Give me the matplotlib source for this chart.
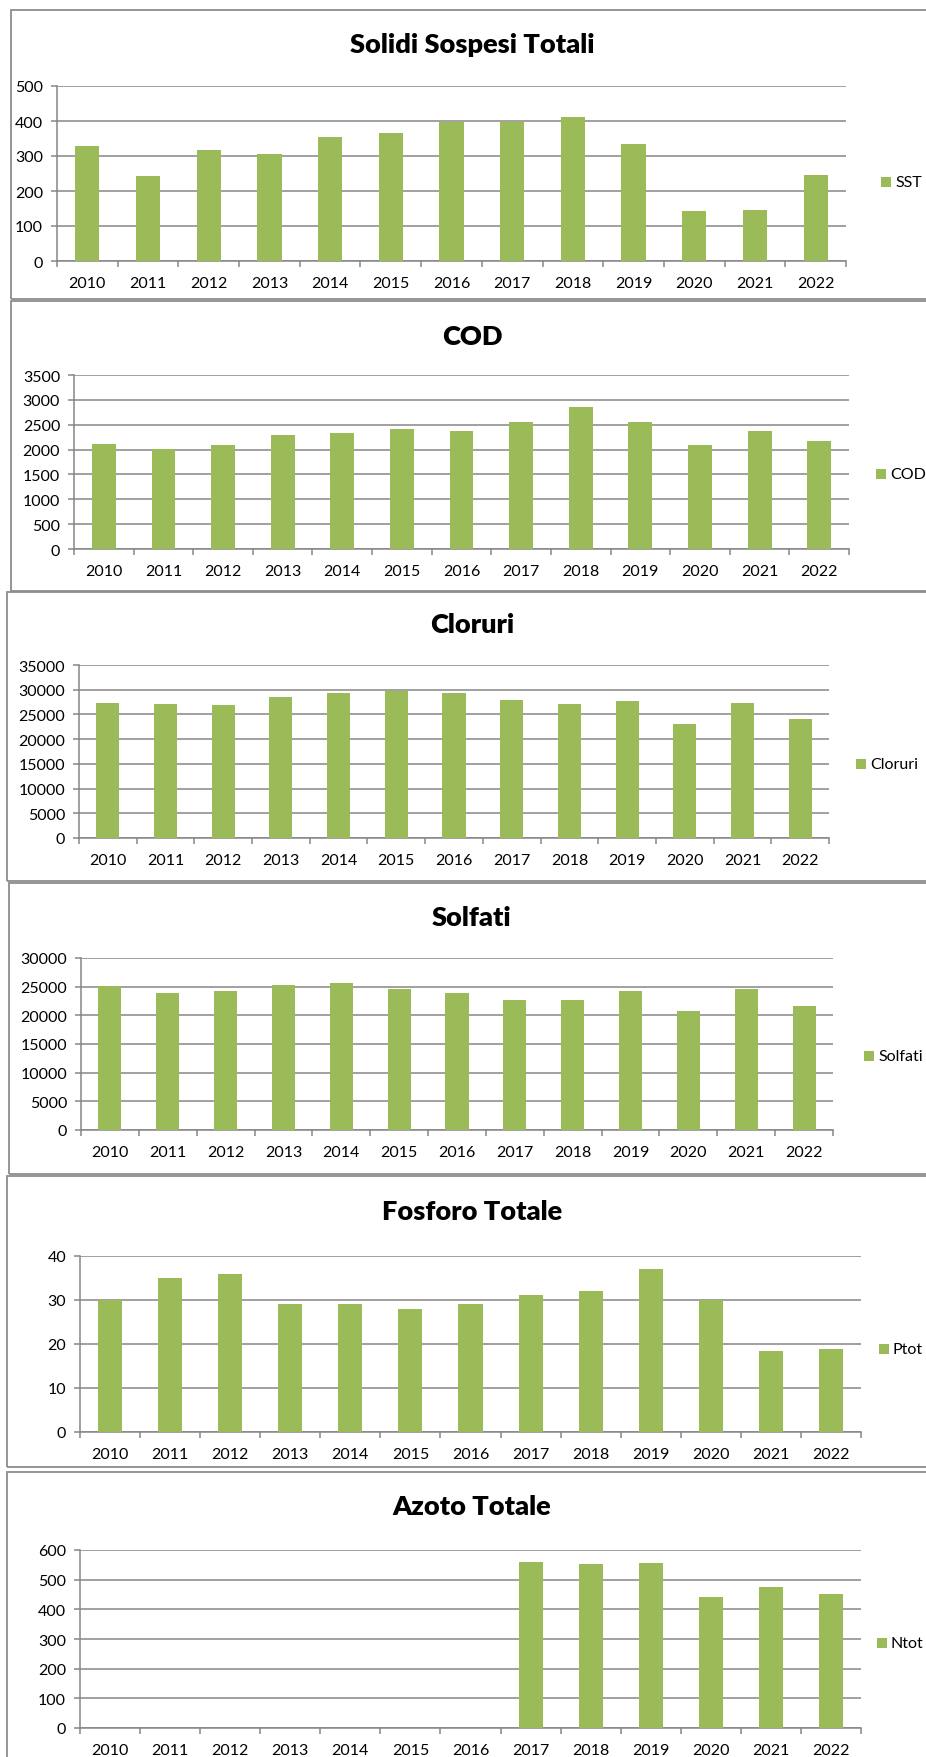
import matplotlib.pyplot as plt
import numpy as np
from matplotlib.patches import Rectangle

plt.rcParams['font.family'] = ['Lato', 'DejaVu Sans']

years = [str(y) for y in range(2010, 2023)]

sst = [328, 243, 318, 305, 353, 365, 398, 398, 412, 335, 143, 145, 246]
cod = [2110, 2005, 2090, 2300, 2335, 2420, 2375, 2550, 2860, 2550, 2090, 2375, 2180]
cloruri = [27400, 27050, 26850, 28500, 29350, 29800, 29350, 27950, 27050, 27750, 23000, 27400, 24050]
solfati = [25050, 23950, 24250, 25350, 25600, 24600, 23850, 22750, 22750, 24250, 20750, 24600, 21700]
ptot = [30, 35, 36, 29, 29, 28, 29, 31.2, 32.1, 37, 30, 18.3, 18.9]
ntot = [np.nan] * 7 + [560, 552, 555, 440, 476, 452]

titles = ["Solidi Sospesi Totali", "COD", "Cloruri", "Solfati", "Fosforo Totale", "Azoto Totale"]
labels = ["SST", "COD", "Cloruri", "Solfati", "Ptot", "Ntot"]
series = [sst, cod, cloruri, solfati, ptot, ntot]
ymax = [500, 3500, 35000, 30000, 40, 600]
ystep = [100, 500, 5000, 5000, 10, 100]

W, H = 926, 1758
fig = plt.figure(figsize=(W / 100, H / 100), dpi=100)

# pixel layout of each panel (border box, plot area, title, legend)
borders = [(11, 11, 300), (11, 302, 592), (7, 593, 882), (9, 884, 1175), (7, 1177, 1468), (7, 1473, 1790)]
plots = [(57, 846, 87, 262), (74, 849, 376, 550), (79, 829, 666, 839),
         (81, 833, 959, 1131), (80, 861, 1257, 1433), (80, 861, 1551, 1729)]
title_y = [45, 337, 625, 918, 1212, 1507]
legend_xy = [(881, 183), (876, 475), (856, 765), (864, 1057), (879, 1350), (877, 1644)]

green = "#9BBB59"
grey = "#868686"

for i in range(6):
    bl, bt, bb = borders[i]
    fig.patches.append(Rectangle((bl / W, 1 - bb / H), (W + 20 - bl) / W, (bb - bt) / H,
                                 transform=fig.transFigure, fill=False,
                                 edgecolor="#8c8c8c", linewidth=1.3, zorder=0))

    l, r, t, b = plots[i]
    ax = fig.add_axes([l / W, 1 - b / H, (r - l) / W, (b - t) / H])
    x = np.arange(len(years))
    ax.bar(x, series[i], width=0.4, color=green, zorder=3)
    ax.set_xlim(-0.5, len(years) - 0.5)
    ax.set_ylim(0, ymax[i])
    ax.set_yticks(np.arange(0, ymax[i] + ystep[i] / 2, ystep[i]))
    ax.yaxis.grid(True, color=grey, linewidth=1.1)
    ax.set_axisbelow(True)
    ax.set_xticks(x)
    ax.set_xticklabels(years)
    ax.set_xticks(np.arange(-0.5, len(years)), minor=True)
    ax.tick_params(axis="x", which="major", length=0, pad=11, labelsize=11.5)
    ax.tick_params(axis="x", which="minor", length=4, color=grey, width=1.1, direction="out")
    ax.tick_params(axis="y", length=4, color=grey, width=1.1, pad=6, labelsize=11.5)
    for s in ["top", "right"]:
        ax.spines[s].set_visible(False)
    for s in ["left", "bottom"]:
        ax.spines[s].set_color(grey)
        ax.spines[s].set_linewidth(1.1)

    fig.text(472 / W, 1 - title_y[i] / H, titles[i], ha="center", va="center",
             fontsize=19.5, fontweight="heavy")

    lx, ly = legend_xy[i]
    fig.patches.append(Rectangle((lx / W, 1 - (ly + 5) / H), 10 / W, 10 / H,
                                 transform=fig.transFigure, facecolor=green, edgecolor="none"))
    fig.text((lx + 14) / W, 1 - ly / H, labels[i], ha="left", va="center", fontsize=11.5)

fig.savefig("out.png", dpi=100)
